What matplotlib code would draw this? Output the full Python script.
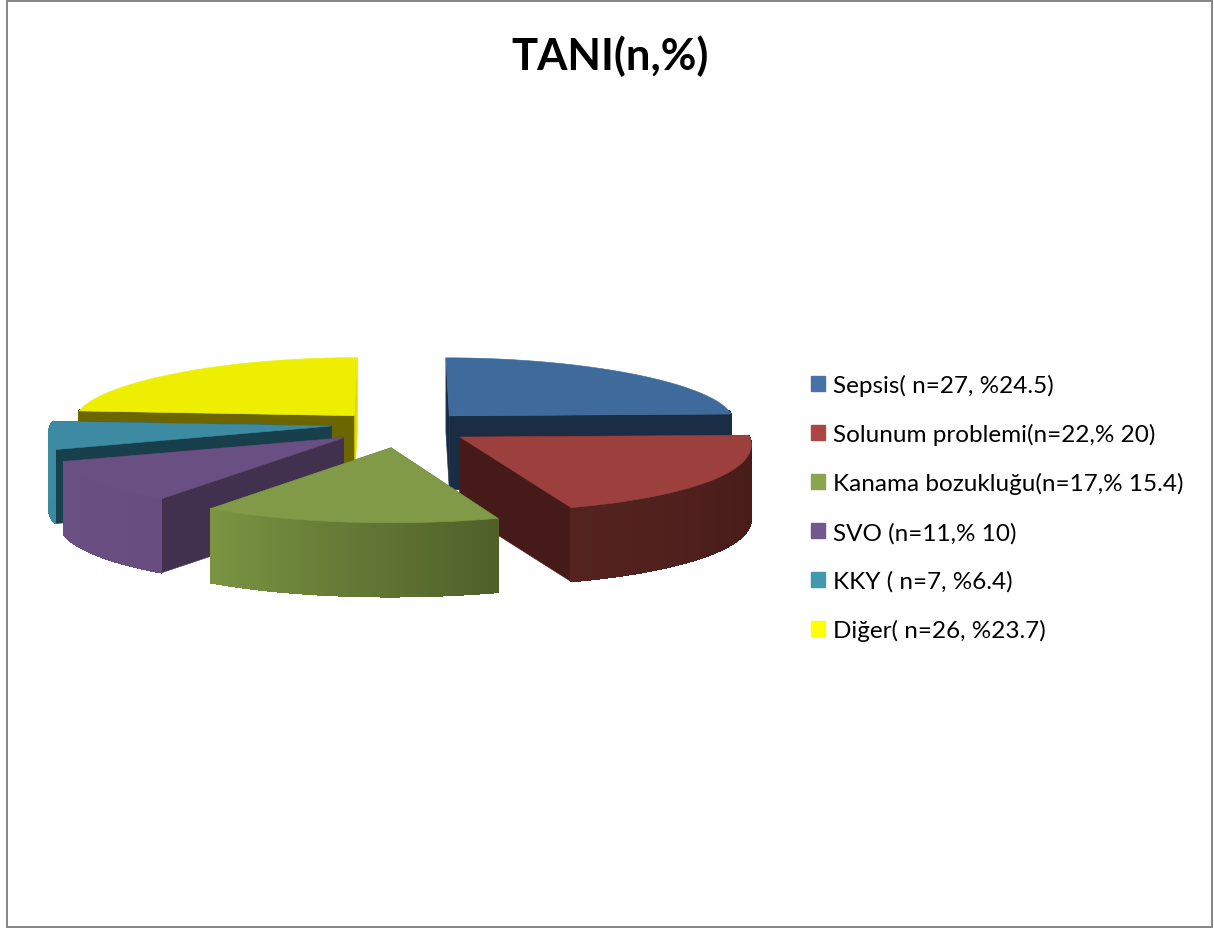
import numpy as np
import matplotlib.pyplot as plt
from matplotlib.colors import to_rgb
from matplotlib.patches import Patch, Rectangle

plt.rcParams['font.family'] = ['Lato', 'DejaVu Sans']

title = "TANI(n,%)"
labels = ["Sepsis( n=27, %24.5)", "Solunum problemi(n=22,% 20)", "Kanama bozukluğu(n=17,% 15.4)",
          "SVO (n=11,% 10)", "KKY ( n=7, %6.4)", "Diğer( n=26, %23.7)"]
percents = [24.5, 20, 15.4, 10, 6.4, 23.7]

top_colors = ["#3f6a9c", "#9c403d", "#809a48", "#6a4f82", "#3d8ba3", "#eeee00"]
wall_colors = ["#1b2d45", "#451a18", "#4f6029", "#42304f", "#17404c", "#6b6600"]
side_left = ["#1b2d45", "#542320", "#7a9442", "#6a4f82", "#3d8ca4", "#6b6600"]
side_right = ["#1b2d45", "#451a17", "#4f6029", "#684e80", "#3a8aa0", "#6b6600"]
legend_colors = ["#4672a8", "#aa4643", "#89a54e", "#71588f", "#4198af", "#ffff00"]

# pie geometry in pixels of the 1214x929 picture
CX, CY = 401, 424
RX_RIGHT, RX_LEFT = 285, 280
RY_BACK, RY_FRONT = 58, 75
DEPTH = 74
EX, EY_BACK, EY_FRONT = 70, 10, 25
PERSP = 0.0012


def perspective(x, y):
    return CX + (x - CX) * (1 + PERSP * (y - CY))


def project(theta, cx, cy):
    # theta is clockwise from 12 o'clock
    ry = np.where(np.cos(theta) > 0, RY_BACK, RY_FRONT)
    rx = np.where(np.sin(theta) > 0, RX_RIGHT, RX_LEFT)
    x = cx + rx * np.sin(theta)
    y = cy - ry * np.cos(theta)
    return perspective(x, y), y


def fill(ax, x, y, color, aa=True):
    ax.fill(x, y, facecolor=color, edgecolor=color, linewidth=0.4, antialiased=aa)


def draw_slice(ax, i, start, end):
    mid = (start + end) / 2
    ey = EY_BACK if np.cos(mid) > 0 else EY_FRONT
    cx = CX + EX * np.sin(mid)
    cy = CY - ey * np.cos(mid)
    apex_x = perspective(cx, cy)

    theta = np.linspace(start, end, 80)
    xs, ys = project(theta, cx, cy)

    # radial walls, the closing wall of the last slice catches the light
    end_wall = "#dedb00" if i == 5 else wall_colors[i]
    for k, color in ((-1, end_wall), (0, wall_colors[i])):
        fill(ax, [apex_x, xs[k], xs[k], apex_x], [cy, ys[k], ys[k] + DEPTH, cy + DEPTH], color)

    # outer rim, front part only
    c0 = np.array(to_rgb(side_right[i]))
    c1 = np.array(to_rgb(side_left[i]))
    for n in range(len(theta) - 1):
        if not np.pi / 2 - 0.1 < theta[n] < 1.5 * np.pi + 0.1:
            continue
        t = n / (len(theta) - 2)
        fill(ax, [xs[n], xs[n + 1], xs[n + 1], xs[n]],
             [ys[n], ys[n + 1], ys[n + 1] + DEPTH, ys[n] + DEPTH], tuple(c0 + (c1 - c0) * t), aa=False)

    # top face
    fill(ax, np.r_[apex_x, xs], np.r_[cy, ys], top_colors[i])


fig = plt.figure(figsize=(12.14, 9.29), dpi=100)
ax = fig.add_axes([0, 0, 1, 1])
ax.set_xlim(0, 1214)
ax.set_ylim(929, 0)
ax.axis('off')

ax.add_patch(Rectangle((6.5, 1.5), 1205, 926, facecolor='white', edgecolor='#868686', linewidth=1.4))
ax.text(610, 56, title, fontsize=31.4, fontweight='bold', ha='center', va='center', color='black')

edges = np.r_[0, np.cumsum(percents)] / 100 * 2 * np.pi
# back slices first, then towards the viewer
for i in [5, 0, 4, 1, 3, 2]:
    draw_slice(ax, i, edges[i], edges[i + 1])

handles = [Patch(facecolor=c, edgecolor=c, label=l) for c, l in zip(legend_colors, labels)]
ax.legend(handles=handles, loc='upper left', bbox_to_anchor=(802, 366), bbox_transform=ax.transData,
          frameon=False, fontsize=17.5, handlelength=0.57, handleheight=0.57, handletextpad=0.36,
          labelspacing=1.12, borderpad=0.36, borderaxespad=0)

fig.savefig('out.png', dpi=100)
